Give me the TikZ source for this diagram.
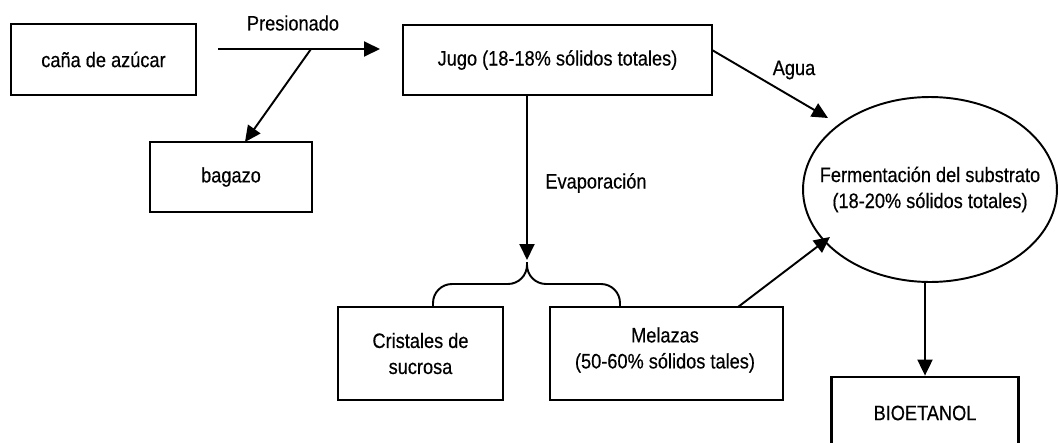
\documentclass[tikz,border=0pt]{standalone}
\usepackage{fontspec}
\setmainfont{Liberation Sans}[FakeStretch=0.87,FakeBold=0.4]
\usetikzlibrary{arrows.meta,shapes.geometric,calc}
\begin{document}
\begin{tikzpicture}[x=0.02cm,y=-0.02cm,
  font=\fontsize{11.9}{14.8}\selectfont,
  box/.style={draw,line width=1.6pt,rectangle,align=center,inner sep=0pt},
  conn/.style={line width=1.1pt,-{Triangle[length=0.32cm,width=0.3cm]}},
  plain/.style={line width=1.1pt},
  lbl/.style={inner sep=0pt}]
\useasboundingbox (0,0) rectangle (1059,443);
\fill[white] (0,0) rectangle (1059,443);
% boxes
\node[box,minimum width=3.7cm,minimum height=1.42cm] (cana) at (103.5,59.5) {caña de azúcar};
\node[box,minimum width=3.24cm,minimum height=1.4cm] (bagazo) at (231,177) {bagazo};
\node[box,minimum width=6.18cm,minimum height=1.4cm] (jugo) at (557.5,60) {Jugo (18-18\% sólidos totales)};
\node[box,minimum width=3.3cm,minimum height=1.86cm] (cristales) at (420.5,353.5) {Cristales de\\sucrosa};
\node[box,minimum width=4.66cm,minimum height=1.86cm] (melazas) at (666.5,353.5) {};
\node[lbl,align=center] (meltxt) at (665,350) {Melazas\\(50-60\% sólidos tales)};
\node[box,minimum width=3.74cm,minimum height=1.44cm] (bio) at (925,413) {BIOETANOL};
\node[draw,ellipse,line width=1.1pt,minimum width=5.08cm,minimum height=3.7cm,inner sep=0pt] (fer) at (930,189.5) {};
\node[lbl,align=center] (fertxt) at (fer.center) {Fermentación del substrato\\(18-20\% sólidos totales)};
% labels
\node[lbl] (lpres) at (293,23) {Presionado};
\node[lbl] (lagua) at (794,70) {Agua};
\node[lbl] (levap) at (596,183) {Evaporación};
% coordinates
\coordinate (p0) at (218,49);
\coordinate (p1) at (380,49);
\coordinate (pb) at (311,49);
\coordinate (bt) at (245,142);
\coordinate (ja) at (712,50);
\coordinate (ae) at (828,118);
\coordinate (ma) at (738,307);
\coordinate (me) at (830,237);
\coordinate (ev) at (527,260);
\coordinate (bs) at (527,262);
\coordinate (bl) at (433,307);
\coordinate (br) at (620,307);
% connectors
\draw[conn] (p0) -- (p1);
\draw[conn] (pb) -- (bt);
\draw[conn] (ja) -- (ae);
\draw[conn] (ma) -- (me);
\draw[conn] (jugo.south -| ev) -- (ev);
\draw[plain,rounded corners=0.38cm] (bs) -- (527,284) -- (433,284) -- (bl);
\draw[plain,rounded corners=0.38cm] (bs) -- (527,284) -- (620,284) -- (br);
\draw[conn] (fer.south -| bio.north) -- (bio.north);
\end{tikzpicture}
\end{document}
